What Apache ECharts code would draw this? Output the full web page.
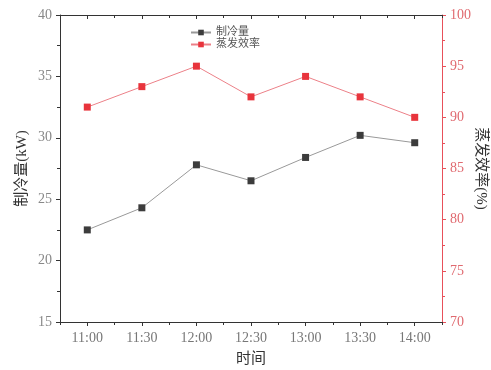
<!DOCTYPE html>
<html><head><meta charset="utf-8">
<script src="https://cdn.jsdelivr.net/npm/echarts@6/dist/echarts.min.js"></script>
<style>html,body{margin:0;padding:0;background:#fff;overflow:hidden}#c{width:491px;height:370px}</style>
</head><body><div id="c"></div>
<script>
var categories = ['11:00','11:30','12:00','12:30','13:00','13:30','14:00'];
var coolingValues = [22.5, 24.3, 27.8, 26.5, 28.4, 30.2, 29.6];
var efficiencyValues = [91, 93, 95, 92, 94, 92, 90];
var leftTicks = {min: 15, max: 40, interval: 5};
var rightTicks = {min: 70, max: 100, interval: 5};

var serif = "'Liberation Serif','DejaVu Serif','Noto Sans CJK SC',serif";
var dark = '#333';
var red = '#e8505a';
var chart = echarts.init(document.getElementById('c'));
function catAxis(pos, major, showLabel, name) {
  return {
    type: 'category', data: categories, position: pos, boundaryGap: true,
    axisLine: {show: true, lineStyle: {color: dark, width: 1}},
    axisTick: {show: true, alignWithLabel: major, inside: pos === 'top', length: major ? 4 : 3, lineStyle: {color: dark}},
    axisLabel: {show: showLabel, color: '#777', fontFamily: serif, fontSize: 14, margin: 9},
    splitLine: {show: false},
    name: name || '', nameLocation: 'middle', nameGap: 30, nameMoveOverlap: false,
    nameTextStyle: {fontFamily: serif, fontSize: 15, color: '#333'}
  };
}
chart.setOption({
  animation: false,
  grid: {left: 60, right: 49, top: 15, bottom: 48, containLabel: false, outerBoundsMode: 'none'},
  legend: {
    orient: 'vertical', left: 185, top: 22, itemGap: 1, itemWidth: 20, itemHeight: 7,
    textStyle: {fontFamily: serif, fontSize: 11, color: '#555'},
    data: ['制冷量', '蒸发效率']
  },
  xAxis: [
    catAxis('bottom', true, true, '时间'),
    catAxis('bottom', false, false),
    catAxis('top', true, false),
    catAxis('top', false, false)
  ],
  yAxis: [
    {
      type: 'value', position: 'left', min: leftTicks.min, max: leftTicks.max, interval: leftTicks.interval,
      axisLine: {show: true, lineStyle: {color: dark}},
      axisTick: {show: true, length: 4, lineStyle: {color: dark}},
      minorTick: {show: true, splitNumber: 2, length: 3, lineStyle: {color: dark}},
      axisLabel: {color: '#888', fontFamily: serif, fontSize: 14, margin: 8},
      splitLine: {show: false},
      name: '制冷量(kW)', nameLocation: 'middle', nameGap: 30, nameRotate: 90, nameMoveOverlap: false,
      nameTextStyle: {fontFamily: serif, fontSize: 15, color: '#333'}
    },
    {
      type: 'value', position: 'right', min: rightTicks.min, max: rightTicks.max, interval: rightTicks.interval,
      axisLine: {show: true, lineStyle: {color: red}},
      axisTick: {show: true, length: 4, lineStyle: {color: red}},
      minorTick: {show: true, splitNumber: 2, length: 3, lineStyle: {color: red}},
      axisLabel: {color: '#e06a70', fontFamily: serif, fontSize: 14, margin: 8},
      splitLine: {show: false},
      name: '蒸发效率(%)', nameLocation: 'middle', nameGap: 31, nameRotate: -90, nameMoveOverlap: false,
      nameTextStyle: {fontFamily: serif, fontSize: 15, color: '#333'}
    }
  ],
  series: [
    {
      name: '制冷量', type: 'line', xAxisIndex: 0, yAxisIndex: 0, data: coolingValues,
      symbol: 'rect', symbolSize: 7,
      itemStyle: {color: '#3c3c3c'}, lineStyle: {color: '#999', width: 1}
    },
    {
      name: '蒸发效率', type: 'line', xAxisIndex: 0, yAxisIndex: 1, data: efficiencyValues,
      symbol: 'rect', symbolSize: 7,
      itemStyle: {color: '#e8343c'}, lineStyle: {color: '#ec8088', width: 1}
    }
  ]
});
</script></body></html>
